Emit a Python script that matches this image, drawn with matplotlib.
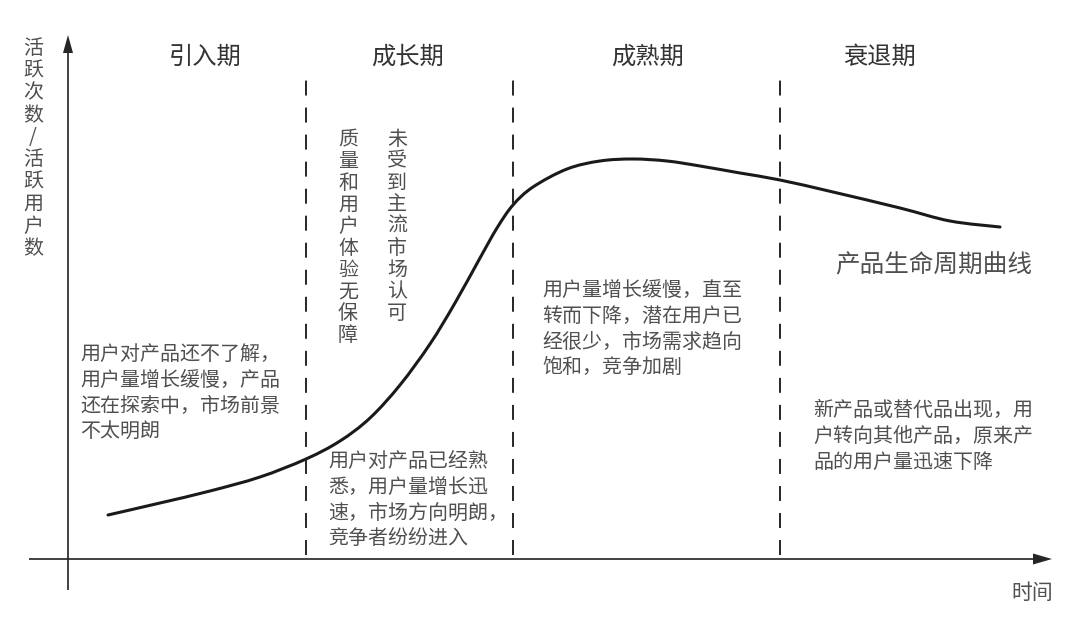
"""Product life cycle curve (产品生命周期曲线)."""

import matplotlib
matplotlib.use("Agg")
import matplotlib.pyplot as plt
from matplotlib.path import Path
from matplotlib.patches import PathPatch

plt.rcParams["font.family"] = ["Noto Sans CJK SC", "DejaVu Sans"]

# curve: time vs activity (arbitrary units)
curve_t = [4.0, 9.2, 14.2, 19.2, 23.8, 27.2, 30.2, 33.2, 36.2, 38.7, 41.2,
           42.9, 44.5, 46.5, 49.9, 53.2, 56.5, 59.9, 63.2, 67.2, 71.2, 76.5,
           83.2, 88.2, 93.2]
curve_active = [4.4, 5.6, 6.8, 8.2, 10.0, 11.8, 14.1, 17.4, 21.5, 25.6, 30.1,
                33.1, 35.4, 37.2, 39.0, 39.8, 40.0, 39.8, 39.3, 38.6, 37.9,
                36.7, 35.1, 33.8, 33.2]

phase_names = ["引入期", "成长期", "成熟期", "衰退期"]
phase_bounds = [23.8, 44.5, 71.2]

phase_notes = [
    "用户对产品还不了解，\n用户量增长缓慢，产品\n还在探索中，市场前景\n不太明朗",
    "用户对产品已经熟\n悉，用户量增长迅\n速，市场方向明朗，\n竞争者纷纷进入",
    "用户量增长缓慢，直至\n转而下降，潜在用户已\n经很少，市场需求趋向\n饱和，竞争加剧",
    "新产品或替代品出现，用\n户转向其他产品，原来产\n品的用户量迅速下降",
]
growth_side_notes = ["质量和用户体验无保障", "未受到主流市场认可"]

y_label = "活跃次数/活跃用户数"
x_label = "时间"
curve_name = "产品生命周期曲线"

# layout (positions in axis units)
title_pos = [(13.7, 50.2), (33.9, 50.2), (58.0, 50.2), (81.2, 50.2)]
note_pos = [(1.2, 21.5), (26.0, 10.8), (47.4, 27.9), (74.5, 15.9)]
side_pos = [(28.0, 43.0), (32.9, 43.0)]

INK = "#262626"
TEXT = "#505050"


def vertical(s):
    return "\n".join(s)


def smooth_path(xs, ys):
    """Catmull-Rom through the points, as cubic Bezier segments."""
    pts = list(zip(xs, ys))
    verts = [pts[0]]
    codes = [Path.MOVETO]
    for i in range(len(pts) - 1):
        p0 = pts[max(i - 1, 0)]
        p1 = pts[i]
        p2 = pts[i + 1]
        p3 = pts[min(i + 2, len(pts) - 1)]
        c1 = (p1[0] + (p2[0] - p0[0]) / 6, p1[1] + (p2[1] - p0[1]) / 6)
        c2 = (p2[0] - (p3[0] - p1[0]) / 6, p2[1] - (p3[1] - p1[1]) / 6)
        verts += [c1, c2, p2]
        codes += [Path.CURVE4] * 3
    return Path(verts, codes)


fig = plt.figure(figsize=(10.8, 6.26), dpi=100)
ax = fig.add_axes([0, 0, 1, 1])
ax.set_xlim(-6.8, 101.2)
ax.set_ylim(-6.7, 55.9)
ax.axis("off")

# axes with arrow heads
ax.arrow(-3.9, 0, 102.3, 0, width=0.17, head_width=1.1, head_length=1.9,
         length_includes_head=True, color=INK, lw=0)
ax.arrow(0, -3.1, 0, 55.5, width=0.17, head_width=1.0, head_length=1.8,
         length_includes_head=True, color=INK, lw=0)

# phase boundaries
for b in phase_bounds:
    ax.plot([b, b], [0.4, 48.1], color=INK, lw=1.4, dashes=(7.7, 6.2))

# life-cycle curve
ax.add_patch(PathPatch(smooth_path(curve_t, curve_active), facecolor="none",
                       edgecolor="#1a1a1a", lw=2.2, capstyle="round"))

for name, (x, y) in zip(phase_names, title_pos):
    ax.text(x, y, name, fontsize=17.5, color="#333333", ha="center", va="center")

for note, (x, y) in zip(phase_notes, note_pos):
    ax.text(x, y, note, fontsize=14.4, color=TEXT, ha="left", va="top",
            linespacing=1.3)

for note, (x, y) in zip(growth_side_notes, side_pos):
    ax.text(x, y, vertical(note), fontsize=14.4, color=TEXT, ha="center",
            va="top", linespacing=1.05)

ax.text(-3.5, 52.1, vertical(y_label), fontsize=14.4, color=TEXT,
        ha="center", va="top", linespacing=1.08)
ax.text(96.4, -3.4, x_label, fontsize=15, color=TEXT, ha="center", va="center")
ax.text(76.7, 29.4, curve_name, fontsize=17.7, color=TEXT, ha="left", va="center")

fig.savefig("out.png", dpi=100, facecolor="white")
